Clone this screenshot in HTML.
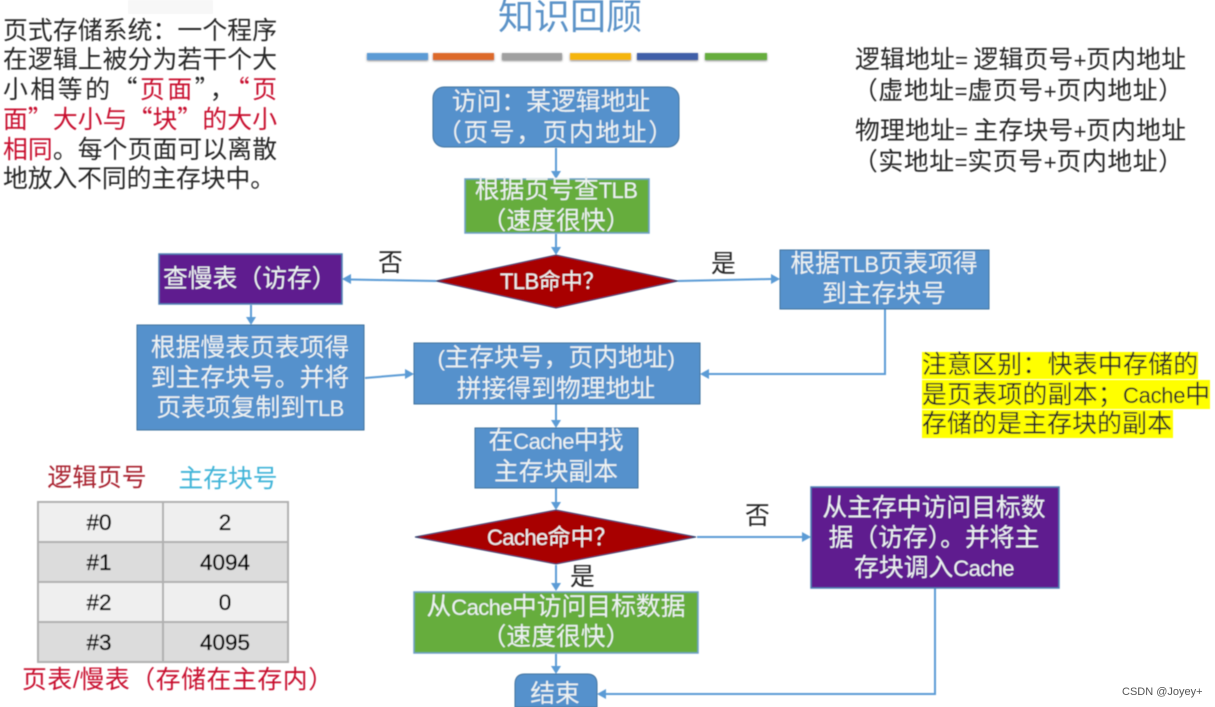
<!DOCTYPE html>
<html lang="zh"><head><meta charset="utf-8"><style>
html,body{margin:0;padding:0;background:#fff;width:1215px;height:707px;overflow:hidden}
svg{display:block}
text{font-family:"Noto Sans CJK SC","Liberation Sans",sans-serif;font-size:24.8px;fill:#262626}
.e{font-family:"Liberation Sans","Noto Sans CJK SC",sans-serif;font-size:22px;letter-spacing:-.6px}
.w{fill:#edf2f2;text-anchor:middle}
.ws{fill:#edf2f2}
.c{text-anchor:middle}
.l{stroke:#5b9bd5;stroke-width:2;fill:none}
.b{fill:#5591cc;stroke:#41719c;stroke-width:1}
.g{fill:#66ad3e;stroke:#6fa0c8;stroke-width:1.5}
.p{fill:#5f1b8f;stroke:#4f81b5;stroke-width:1.5}
.d{fill:#a80000;stroke:#2f3f70;stroke-width:1}
.r{fill:#c8102e}
.a{fill:#5b9bd5}
.bar{filter:url(#s)}
.t{font-family:"Liberation Sans",sans-serif;font-size:22.5px;fill:#000;stroke:#000;stroke-width:.35px;text-anchor:middle}
</style></head><body>
<svg width="1215" height="707" viewBox="0 0 1215 707" xmlns="http://www.w3.org/2000/svg">
<defs><filter id="b" x="-2%" y="-2%" width="104%" height="104%"><feGaussianBlur stdDeviation="0.45"/></filter>
<filter id="s" x="-5%" y="-50%" width="110%" height="200%"><feDropShadow dx="0" dy="1" stdDeviation="1" flood-color="#888"/></filter></defs>
<g filter="url(#b)">
<rect x="128" y="0" width="85" height="14" fill="#f7f7f7"/>
<!-- left text -->
<text x="3" y="39" textLength="274">页式存储系统：一个程序</text>
<text x="3" y="68" textLength="274">在逻辑上被分为若干个大</text>
<text x="3" y="98" textLength="274">小相等的“<tspan class="r">页面</tspan>”，<tspan class="r">“页</tspan></text>
<text x="3" y="128" textLength="274" class="r">面”大小与“块”的大小</text>
<text x="3" y="158" textLength="274"><tspan class="r">相同</tspan>。每个页面可以离散</text>
<text x="3" y="187" textLength="272">地放入不同的主存块中。</text>
<!-- title -->
<text x="570" y="29" class="c" style="font-size:36px;fill:#5b93c8">知识回顾</text>
<rect class="bar" x="367" y="53" width="61" height="7" fill="#5b9bd5"/>
<rect class="bar" x="433" y="53" width="61" height="7" fill="#dd6b2b"/>
<rect class="bar" x="502" y="53" width="60" height="7" fill="#a0a0a0"/>
<rect class="bar" x="570" y="53" width="61" height="7" fill="#f5b50f"/>
<rect class="bar" x="637" y="53" width="61" height="7" fill="#3f5ea8"/>
<rect class="bar" x="705" y="53" width="62" height="7" fill="#66ad3e"/>
<!-- right top -->
<text x="855" y="68" textLength="331">逻辑地址<tspan class="e">= </tspan>逻辑页号<tspan class="e">+</tspan>页内地址</text>
<text x="853" y="99" textLength="330">（虚地址<tspan class="e">=</tspan>虚页号<tspan class="e">+</tspan>页内地址）</text>
<text x="855" y="139" textLength="331">物理地址<tspan class="e">= </tspan>主存块号<tspan class="e">+</tspan>页内地址</text>
<text x="853" y="170" textLength="330">（实地址<tspan class="e">=</tspan>实页号<tspan class="e">+</tspan>页内地址）</text>
<!-- connectors -->
<path class="l" d="M556 148V172M556 234V250M436 281L350 279.500M678 281L772 279M251 305V319M365 378L407 374.500M885 309V374H708M556 404V421M556 488V504M556 565V585M697 537H804M556 654V668M935 588V694H606"/>
<path class="a" d="M556 179l-5-8h10zM556 255l-5-8h10zM342 279l9-5v10zM780 279l-9-5v10zM251 325l-5-8h10zM414 374l-9-5v10zM700 374l9-5v10zM556 428l-5-8h10zM556 510l-5-8h10zM556 591l-5-8h10zM811 537l-9-5v10zM556 674l-5-8h10zM597 694l9-5v10z"/>
<!-- nodes -->
<rect class="b" x="433" y="87" width="246" height="60" rx="11"/>
<text x="551" y="110" class="w">访问：某逻辑地址</text><text x="555" y="141" class="w" textLength="236">（页号，页内地址）</text>
<rect class="g" x="465" y="179" width="184" height="54"/>
<text x="556" y="198" class="w">根据页号查<tspan class="e">TLB</tspan></text><text x="556" y="229" class="w">（速度很快）</text>
<path class="d" d="M556 255L678 281L556 308L436 281Z"/>
<text x="500" y="289" class="ws" style="font-size:22px"><tspan class="e">TLB</tspan>命中？</text>
<rect class="p" x="159" y="254" width="183" height="50"/>
<text x="163" y="287" class="ws">查慢表（访存）</text>
<rect class="b" x="780" y="250" width="209" height="59"/>
<text x="884" y="272" class="w">根据<tspan class="e">TLB</tspan>页表项得</text><text x="884" y="302" class="w">到主存块号</text>
<rect class="b" x="137" y="325" width="227" height="105"/>
<text x="250" y="356" class="w">根据慢表页表项得</text><text x="250" y="386" class="w">到主存块号。并将</text><text x="250" y="416" class="w">页表项复制到<tspan class="e">TLB</tspan></text>
<rect class="b" x="414" y="343" width="286" height="61"/>
<text x="556" y="366" class="w"><tspan class="e">(</tspan>主存块号，页内地址<tspan class="e">)</tspan></text><text x="556" y="397" class="w">拼接得到物理地址</text>
<rect class="b" x="475" y="428" width="163" height="60"/>
<text x="556" y="449" class="w">在<tspan class="e">Cache</tspan>中找</text><text x="556" y="480" class="w">主存块副本</text>
<path class="d" d="M556 510L696 537L556 564L415 537Z"/>
<text x="487" y="545" class="ws" style="font-size:23px"><tspan class="e">Cache</tspan>命中？</text>
<rect class="p" x="811" y="487" width="248" height="101"/>
<text x="934" y="516" class="w">从主存中访问目标数</text><text x="934" y="546" class="w">据（访存）。并将主</text><text x="934" y="576" class="w">存块调入<tspan class="e">Cache</tspan></text>
<rect class="g" x="414" y="592" width="284" height="61"/>
<text x="556" y="615" class="w">从<tspan class="e">Cache</tspan>中访问目标数据</text><text x="556" y="645" class="w">（速度很快）</text>
<path class="b" d="M525 674H587Q597 674 597 684V707H515V684Q515 674 525 674Z"/>
<text x="555" y="702" class="w">结束</text>
<!-- labels -->
<text x="378" y="271">否</text><text x="711" y="272">是</text>
<text x="745" y="524">否</text><text x="570" y="585">是</text>
<!-- note -->
<rect x="922" y="352" width="276" height="27" fill="#ffff00"/>
<rect x="922" y="380" width="288" height="29" fill="#ffff00"/>
<rect x="922" y="410" width="251" height="28" fill="#ffff00"/>
<text x="922" y="373" textLength="276">注意区别：快表中存储的</text>
<text x="922" y="403" textLength="288">是页表项的副本；<tspan class="e">Cache</tspan>中</text>
<text x="922" y="432" textLength="250">存储的是主存块的副本</text>
<!-- table -->
<text x="97" y="486" class="c" style="fill:#a8202f">逻辑页号</text>
<text x="228" y="487" class="c" style="fill:#41b4d8">主存块号</text>
<rect x="38" y="502" width="250" height="40" fill="#efefef"/>
<rect x="38" y="542" width="250" height="40" fill="#dcdcdc"/>
<rect x="38" y="582" width="250" height="40" fill="#efefef"/>
<rect x="38" y="622" width="250" height="40" fill="#dcdcdc"/>
<path d="M38 502H288V662H38ZM38 542H288M38 582H288M38 622H288M163 502V662" fill="none" stroke="#b0b0b0" stroke-width="2"/>
<text x="99" y="530" class="t">#0</text><text x="225" y="530" class="t">2</text>
<text x="99" y="570" class="t">#1</text><text x="225" y="570" class="t">4094</text>
<text x="99" y="610" class="t">#2</text><text x="225" y="610" class="t">0</text>
<text x="99" y="650" class="t">#3</text><text x="225" y="650" class="t">4095</text>
<text x="22" y="688" class="r" textLength="311">页表<tspan class="e" style="font-size:24px;fill:#c8102e">/</tspan>慢表（存储在主存内）</text>
</g>
<text x="1122" y="695" style="font-family:'Liberation Sans',sans-serif;font-size:11px;fill:#555">CSDN @Joyey+</text>
</svg>
</body></html>
